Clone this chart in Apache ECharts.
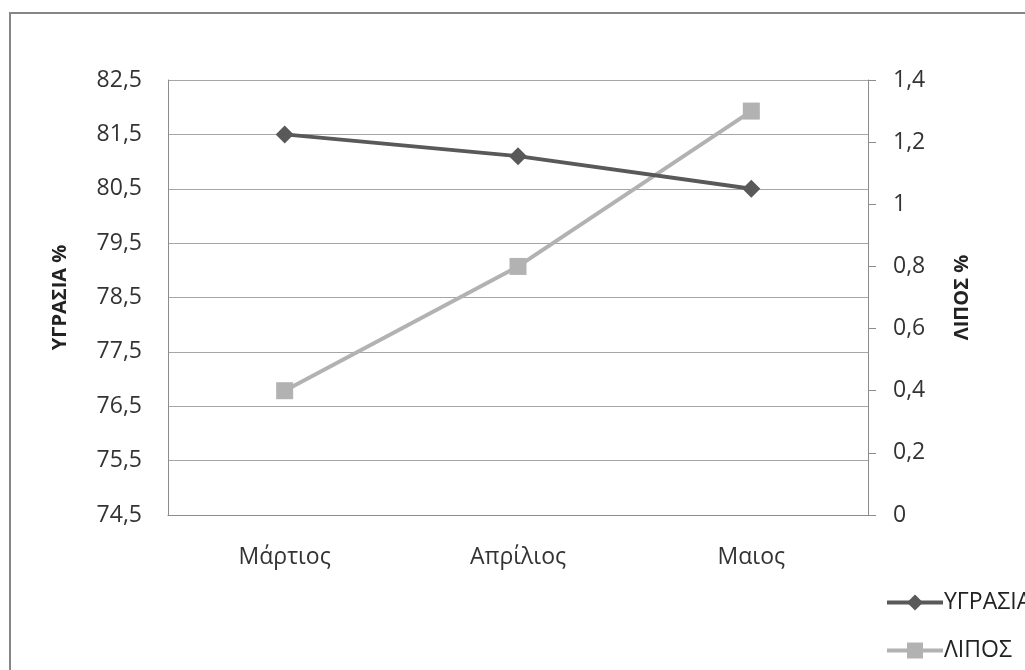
<!DOCTYPE html>
<html>
<head>
<meta charset="utf-8">
<script src="https://cdn.jsdelivr.net/npm/echarts@6/dist/echarts.min.js"></script>
<style>
html,body{margin:0;padding:0;background:#fff;}
#c{width:1025px;height:670px;}
</style>
</head>
<body>
<div id="c"></div>
<script>
const categories = ['Μάρτιος', 'Απρίλιος', 'Μαιος'];
const moisture = [81.5, 81.1, 80.5];
const fat = [0.4, 0.8, 1.3];
const leftTicks = [74.5, 75.5, 76.5, 77.5, 78.5, 79.5, 80.5, 81.5, 82.5];
const seriesNames = ['ΥΓΡΑΣΙΑ', 'ΛΙΠΟΣ'];
const axisNames = ['ΥΓΡΑΣΙΑ %', 'ΛΙΠΟΣ %'];

const FONT = '"Open Sans", "Noto Sans", sans-serif';
const FS = 23;
const chart = echarts.init(document.getElementById('c'), null, {renderer: 'canvas'});
const fmtComma = v => String(+(+v).toFixed(1)).replace('.', ',');

chart.setOption({
  backgroundColor: '#fff',
  animation: false,
  textStyle: {fontFamily: FONT},
  graphic: [{
    type: 'rect',
    shape: {x: 10, y: 13, width: 1040, height: 700},
    style: {fill: 'none', stroke: '#868686', lineWidth: 2},
    z: -1
  }],
  grid: {left: 168, right: 157, top: 80, bottom: 155, containLabel: false},
  legend: {
    orient: 'vertical',
    left: 885, top: 591,
    height: 120,
    padding: 0,
    itemWidth: 56, itemHeight: 20, itemGap: 25,
    lineStyle: {width: 4},
    textStyle: {fontFamily: FONT, fontSize: FS, color: '#222', padding: [0, 0, 0, -4]},
    data: seriesNames
  },
  xAxis: {
    type: 'category',
    data: categories,
    boundaryGap: true,
    axisLine: {lineStyle: {color: '#8c8c8c', width: 1}},
    axisTick: {show: false},
    axisLabel: {fontFamily: FONT, fontSize: FS, color: '#333', margin: 31}
  },
  yAxis: [{
    type: 'value',
    min: 74.5, max: 82.5,
    name: axisNames[0],
    nameLocation: 'middle',
    nameRotate: 90,
    nameGap: 98,
    nameTextStyle: {fontFamily: FONT, fontSize: 20, fontWeight: 'bold', color: '#222'},
    axisLine: {show: true, lineStyle: {color: '#8c8c8c', width: 1}},
    axisTick: {show: false, customValues: leftTicks},
    axisLabel: {customValues: leftTicks, fontFamily: FONT, fontSize: FS, color: '#333', margin: 26,
      formatter: v => (+v).toFixed(1).replace('.', ',')},
    splitLine: {show: true, lineStyle: {color: '#a6a6a6', width: 1}}
  }, {
    type: 'value',
    min: 0, max: 1.4, interval: 0.2,
    position: 'right',
    name: axisNames[1],
    nameLocation: 'middle',
    nameRotate: 90,
    nameGap: 84,
    nameTextStyle: {fontFamily: FONT, fontSize: 20, fontWeight: 'bold', color: '#222'},
    axisLine: {show: true, lineStyle: {color: '#8c8c8c', width: 1}},
    axisTick: {show: true, length: 8, inside: false, lineStyle: {color: '#8c8c8c'}},
    axisLabel: {fontFamily: FONT, fontSize: FS, color: '#333', margin: 25, formatter: fmtComma},
    splitLine: {show: false}
  }],
  series: [{
    name: seriesNames[0],
    type: 'line',
    yAxisIndex: 0,
    data: moisture,
    symbol: 'diamond',
    symbolSize: 18,
    lineStyle: {color: '#595959', width: 4},
    itemStyle: {color: '#595959'},
    z: 3
  }, {
    name: seriesNames[1],
    type: 'line',
    yAxisIndex: 1,
    data: fat,
    symbol: 'rect',
    symbolSize: 17,
    lineStyle: {color: '#b2b2b2', width: 4},
    itemStyle: {color: '#b2b2b2'},
    z: 2
  }]
});
</script>
</body>
</html>
